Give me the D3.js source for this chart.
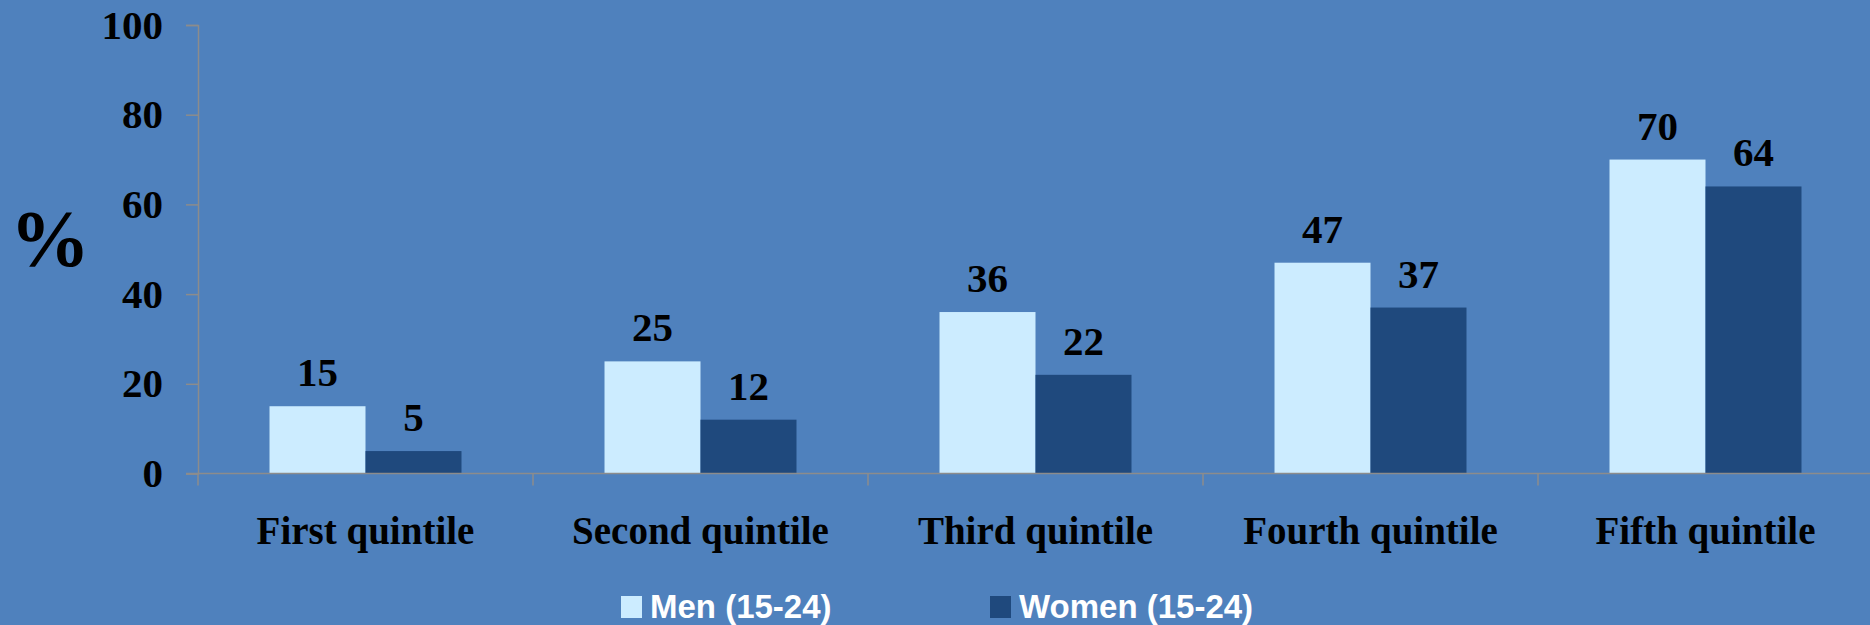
<!DOCTYPE html>
<html>
<head>
<meta charset="utf-8">
<script src="https://cdn.jsdelivr.net/npm/d3@7"></script>
<style>
  html, body { margin: 0; padding: 0; background: #4F81BD; }
  svg { display: block; }
</style>
</head>
<body>
<script>
// Share (%) by wealth quintile, young men and women aged 15-24
const categories = ["First quintile", "Second quintile", "Third quintile", "Fourth quintile", "Fifth quintile"];
const seriesNames = ["Men (15-24)", "Women (15-24)"];
const menValues = [15, 25, 36, 47, 70];
const womenValues = [5, 12, 22, 37, 64];
const yTicks = [0, 20, 40, 60, 80, 100];

const W = 1870, H = 625;
const margin = { left: 198, right: 0, top: 25, bottom: 151.5 };
const colors = ["#CCECFF", "#1F497D"];
const serif = "'Liberation Serif', 'Times New Roman', serif";
const sans = "'Liberation Sans', Arial, sans-serif";

const svg = d3.select("body").append("svg").attr("width", W).attr("height", H);
svg.append("rect").attr("width", W).attr("height", H).attr("fill", "#4F81BD");

const x0 = d3.scaleBand().domain(categories).range([margin.left, W - margin.right + 3]).padding(0);
const x1 = d3.scaleBand().domain(seriesNames).range([0, x0.bandwidth()]).paddingInner(0).paddingOuter(0.745);
const y = d3.scaleLinear().domain([0, 100]).range([H - margin.bottom, margin.top]);

const rows = categories.map((c, i) => ({ cat: c, vals: [menValues[i], womenValues[i]] }));

// Bars
const groups = svg.append("g").selectAll("g").data(rows).join("g")
  .attr("transform", d => `translate(${x0(d.cat)},0)`);

groups.selectAll("rect").data(d => d.vals.map((v, j) => ({ v, name: seriesNames[j], j })))
  .join("rect")
  .attr("x", d => x1(d.name))
  .attr("y", d => y(d.v))
  .attr("width", x1.bandwidth())
  .attr("height", d => y(0) - y(d.v))
  .attr("fill", d => colors[d.j]);

// Value labels
groups.selectAll("text").data(d => d.vals.map((v, j) => ({ v, name: seriesNames[j] })))
  .join("text")
  .attr("x", d => x1(d.name) + x1.bandwidth() / 2)
  .attr("y", d => y(d.v) - 20)
  .attr("text-anchor", "middle")
  .attr("font-family", serif).attr("font-weight", "bold").attr("font-size", 41)
  .attr("fill", "#000")
  .text(d => d.v);

// Y axis
const yAxis = svg.append("g").attr("transform", `translate(${margin.left},0)`)
  .call(d3.axisLeft(y).tickValues(yTicks).tickSize(12).tickPadding(23));
yAxis.select(".domain").attr("stroke", "#8C8C8C").attr("stroke-width", 1.5);
yAxis.selectAll(".tick line").attr("stroke", "#8C8C8C").attr("stroke-width", 1.5);
yAxis.selectAll(".tick text")
  .attr("font-family", serif).attr("font-weight", "bold").attr("font-size", 41)
  .attr("fill", "#000");

// X axis with ticks at band boundaries
const xAxisG = svg.append("g").attr("transform", `translate(0,${y(0)})`);
xAxisG.append("line")
  .attr("x1", margin.left - 12).attr("x2", W)
  .attr("stroke", "#8C8C8C").attr("stroke-width", 1.5);
xAxisG.selectAll("line.tick").data(categories).join("line")
  .attr("class", "tick")
  .attr("x1", d => x0(d)).attr("x2", d => x0(d))
  .attr("y1", 0).attr("y2", 12)
  .attr("stroke", "#8C8C8C").attr("stroke-width", 1.5);
xAxisG.selectAll("text").data(categories).join("text")
  .attr("x", d => x0(d) + x0.bandwidth() / 2)
  .attr("y", 70)
  .attr("text-anchor", "middle")
  .attr("font-family", serif).attr("font-weight", "bold").attr("font-size", 39)
  .attr("fill", "#000")
  .text(d => d);

// Y axis title
svg.append("text")
  .attr("x", 50).attr("y", 266)
  .attr("text-anchor", "middle")
  .attr("font-family", serif).attr("font-weight", "bold").attr("font-size", 80)
  .attr("fill", "#000")
  .text("%");

// Legend
const legendX = [621, 990];
const legend = svg.append("g").selectAll("g").data(seriesNames).join("g")
  .attr("transform", (d, i) => `translate(${legendX[i]},596)`);
legend.append("rect").attr("width", 21).attr("height", 22).attr("fill", (d, i) => colors[i]);
legend.append("text")
  .attr("x", 29).attr("y", 22)
  .attr("font-family", sans).attr("font-weight", "bold").attr("font-size", 33)
  .attr("fill", "#fff")
  .text(d => d);
</script>
</body>
</html>
